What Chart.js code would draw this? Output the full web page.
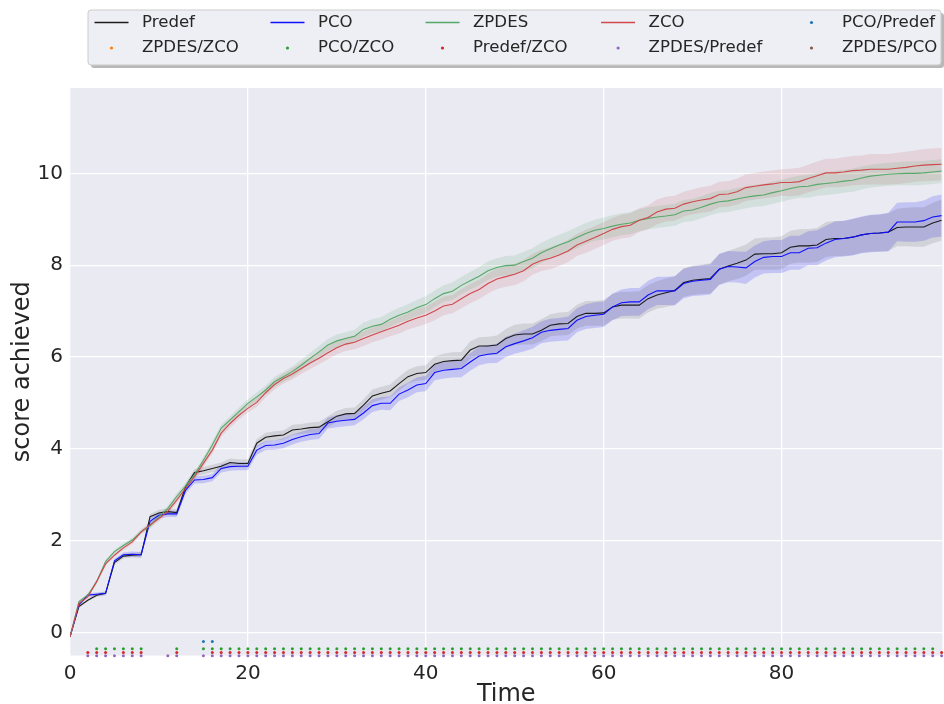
<!DOCTYPE html>
<html>
<head>
<meta charset="utf-8">
<script src="https://cdn.jsdelivr.net/npm/chart.js@4.4.1/dist/chart.umd.min.js"></script>
<style>
  html, body { margin: 0; padding: 0; background: #ffffff; }
  #wrap { width: 944px; height: 704px; position: relative; }
</style>
</head>
<body>
<div id="wrap"><canvas id="c" width="944" height="704"></canvas></div>
<script>
// ---- data -------------------------------------------------------------
const TIMES = [0,1,2,3,4,5,6,7,8,9,10,11,12,13,14,15,16,17,18,19,20,21,22,23,24,25,26,27,28,29,
  30,31,32,33,34,35,36,37,38,39,40,41,42,43,44,45,46,47,48,49,50,51,52,53,54,55,56,57,58,59,
  60,61,62,63,64,65,66,67,68,69,70,71,72,73,74,75,76,77,78,79,80,81,82,83,84,85,86,87,88,89,
  90,91,92,93,94,95,96,97,98];

const PREDEF = [-0.10,0.56,0.70,0.81,0.85,1.52,1.66,1.68,1.69,2.52,
  2.60,2.63,2.61,3.17,3.48,3.52,3.57,3.62,3.70,3.68,
  3.68,4.12,4.25,4.28,4.30,4.41,4.43,4.46,4.47,4.59,
  4.71,4.76,4.77,4.95,5.15,5.21,5.26,5.42,5.57,5.64,
  5.66,5.84,5.90,5.92,5.93,6.15,6.24,6.24,6.26,6.40,
  6.48,6.50,6.50,6.58,6.69,6.72,6.73,6.88,6.95,6.95,
  6.96,7.09,7.13,7.13,7.13,7.27,7.35,7.40,7.45,7.62,
  7.67,7.69,7.71,7.91,7.98,8.04,8.11,8.24,8.25,8.25,
  8.27,8.39,8.42,8.42,8.44,8.56,8.58,8.58,8.61,8.66,
  8.69,8.70,8.72,8.82,8.83,8.83,8.83,8.92,8.98];

const PCO = [-0.10,0.60,0.81,0.83,0.85,1.56,1.69,1.70,1.69,2.42,
  2.55,2.58,2.58,3.10,3.32,3.33,3.37,3.57,3.61,3.62,
  3.62,3.97,4.07,4.08,4.12,4.20,4.26,4.31,4.33,4.56,
  4.60,4.62,4.64,4.78,4.94,4.99,4.99,5.19,5.28,5.39,
  5.42,5.66,5.71,5.73,5.75,5.89,6.02,6.06,6.08,6.22,
  6.29,6.35,6.42,6.54,6.58,6.60,6.62,6.80,6.88,6.91,
  6.93,7.09,7.18,7.20,7.20,7.35,7.44,7.44,7.44,7.60,
  7.65,7.67,7.69,7.91,7.97,7.96,7.94,8.08,8.17,8.19,
  8.19,8.27,8.27,8.37,8.38,8.48,8.56,8.58,8.61,8.66,
  8.69,8.70,8.72,8.94,8.94,8.94,8.97,9.05,9.08];

const ZPDES = [-0.10,0.67,0.81,1.10,1.54,1.76,1.89,2.01,2.19,2.32,
  2.52,2.70,2.96,3.19,3.43,3.75,4.08,4.45,4.63,4.81,
  4.99,5.13,5.28,5.46,5.57,5.68,5.82,5.97,6.11,6.26,
  6.35,6.40,6.45,6.60,6.67,6.71,6.82,6.91,6.98,7.07,
  7.14,7.27,7.38,7.43,7.56,7.66,7.76,7.88,7.95,7.99,
  8.00,8.08,8.15,8.27,8.36,8.44,8.51,8.60,8.69,8.76,
  8.80,8.85,8.89,8.92,8.98,9.02,9.05,9.07,9.10,9.18,
  9.20,9.26,9.33,9.38,9.40,9.44,9.48,9.51,9.53,9.58,
  9.62,9.67,9.71,9.72,9.76,9.78,9.80,9.83,9.85,9.90,
  9.94,9.96,9.98,9.99,10.00,10.00,10.01,10.03,10.05];

const ZCO = [-0.10,0.63,0.77,1.11,1.49,1.68,1.84,1.97,2.19,2.34,
  2.48,2.64,2.88,3.14,3.39,3.68,3.97,4.34,4.55,4.73,
  4.88,5.01,5.22,5.40,5.53,5.63,5.75,5.87,5.97,6.09,
  6.20,6.28,6.32,6.40,6.48,6.55,6.62,6.69,6.78,6.85,
  6.91,7.00,7.11,7.15,7.27,7.38,7.47,7.60,7.70,7.75,
  7.80,7.88,8.02,8.10,8.15,8.22,8.31,8.44,8.52,8.60,
  8.69,8.78,8.84,8.87,8.98,9.04,9.16,9.22,9.24,9.33,
  9.38,9.42,9.45,9.54,9.55,9.60,9.69,9.72,9.75,9.77,
  9.80,9.80,9.82,9.89,9.95,10.01,10.01,10.03,10.06,10.07,
  10.09,10.09,10.09,10.11,10.13,10.16,10.18,10.19,10.20];

// half-width of the shaded confidence band around each mean curve
const ERR_PREDEF = [0.00,0.03,0.03,0.04,0.04,0.05,0.05,0.05,0.06,0.06,
  0.07,0.07,0.07,0.07,0.08,0.08,0.08,0.08,0.09,0.09,
  0.09,0.09,0.10,0.10,0.10,0.11,0.11,0.11,0.12,0.12,
  0.12,0.13,0.13,0.13,0.14,0.14,0.14,0.15,0.15,0.16,
  0.16,0.17,0.17,0.18,0.18,0.19,0.19,0.20,0.21,0.21,
  0.22,0.23,0.23,0.24,0.24,0.25,0.25,0.26,0.27,0.27,
  0.28,0.28,0.29,0.29,0.30,0.30,0.30,0.31,0.31,0.31,
  0.32,0.32,0.33,0.33,0.33,0.34,0.34,0.34,0.35,0.35,
  0.36,0.36,0.36,0.37,0.37,0.38,0.38,0.38,0.39,0.39,
  0.40,0.40,0.41,0.41,0.42,0.43,0.43,0.44,0.45];

const ERR_PCO = [0.00,0.03,0.04,0.04,0.04,0.05,0.05,0.06,0.06,0.06,
  0.07,0.07,0.07,0.08,0.08,0.08,0.08,0.09,0.09,0.09,
  0.09,0.10,0.10,0.10,0.11,0.11,0.11,0.12,0.12,0.12,
  0.13,0.13,0.13,0.14,0.14,0.14,0.15,0.15,0.16,0.16,
  0.17,0.17,0.18,0.18,0.19,0.19,0.20,0.20,0.21,0.22,
  0.22,0.23,0.24,0.24,0.25,0.25,0.26,0.26,0.27,0.28,
  0.28,0.29,0.29,0.30,0.30,0.31,0.31,0.31,0.32,0.32,
  0.32,0.33,0.33,0.34,0.34,0.34,0.35,0.35,0.35,0.36,
  0.36,0.37,0.37,0.37,0.38,0.38,0.39,0.39,0.40,0.40,
  0.41,0.41,0.42,0.42,0.43,0.43,0.44,0.45,0.46];

const ERR_ZPDES = [0.00,0.03,0.03,0.04,0.04,0.04,0.05,0.05,0.05,0.06,
  0.06,0.06,0.07,0.07,0.07,0.07,0.08,0.08,0.08,0.09,
  0.09,0.10,0.10,0.11,0.11,0.12,0.12,0.12,0.13,0.13,
  0.14,0.14,0.14,0.15,0.15,0.16,0.16,0.16,0.17,0.17,
  0.18,0.18,0.18,0.19,0.19,0.19,0.20,0.20,0.20,0.21,
  0.21,0.21,0.22,0.22,0.22,0.22,0.23,0.23,0.23,0.23,
  0.24,0.24,0.24,0.24,0.24,0.24,0.24,0.24,0.24,0.24,
  0.24,0.24,0.24,0.24,0.24,0.24,0.24,0.24,0.24,0.24,
  0.24,0.24,0.24,0.25,0.25,0.25,0.25,0.25,0.25,0.25,
  0.25,0.25,0.25,0.25,0.26,0.26,0.26,0.26,0.26];

const ERR_ZCO = [0.00,0.03,0.03,0.04,0.04,0.04,0.05,0.05,0.05,0.06,
  0.06,0.06,0.07,0.07,0.07,0.08,0.08,0.08,0.09,0.09,
  0.09,0.10,0.10,0.11,0.11,0.12,0.12,0.13,0.13,0.14,
  0.14,0.15,0.15,0.16,0.16,0.17,0.17,0.18,0.18,0.19,
  0.19,0.20,0.20,0.20,0.21,0.21,0.21,0.22,0.22,0.22,
  0.23,0.23,0.23,0.23,0.24,0.24,0.24,0.24,0.25,0.25,
  0.25,0.25,0.26,0.26,0.26,0.26,0.27,0.27,0.27,0.27,
  0.27,0.28,0.28,0.28,0.28,0.28,0.29,0.29,0.29,0.29,
  0.29,0.30,0.30,0.30,0.31,0.31,0.31,0.32,0.32,0.32,
  0.33,0.33,0.33,0.34,0.34,0.34,0.35,0.35,0.35];

// time steps at which each pairwise difference is significant
const SIG_PCO_PREDEF = [15,16];
const SIG_ZPDES_ZCO = [];
const SIG_PCO_ZCO = [3,4,5,6,7,8,12,15,16,17,18,19,20,21,22,23,24,25,26,27,28,29,30,31,32,33,34,35,
  36,37,38,39,40,41,42,43,44,45,46,47,48,49,50,51,52,53,54,55,56,57,58,59,60,61,62,63,64,65,66,67,
  68,69,70,71,72,73,74,75,76,77,78,79,80,81,82,83,84,85,86,87,88,89,90,91,92,93,94,95,96,97];
const SIG_PREDEF_ZCO = [2,3,4,6,7,8,12,16,17,18,19,20,21,22,23,24,25,26,27,28,29,30,31,32,33,34,35,
  36,37,38,39,40,41,42,43,44,45,46,47,48,49,50,51,52,53,54,55,56,57,58,59,60,61,62,63,64,65,66,67,
  68,69,70,71,72,73,74,75,76,77,78,79,80,81,82,83,84,85,86,87,88,89,90,91,92,93,94,95,96,97,98];
const SIG_ZPDES_PREDEF = [2,3,4,5,6,7,8,11,12,15,16,17,18,19,20,21,22,23,24,25,26,27,28,29,30,31,32,
  33,34,35,36,37,38,39,40,41,42,43,44,45,46,47,48,49,50,51,52,53,54,55,56,57,58,59,60,61,62,63,64,
  65,66,67,68,69,70,71,72,73,74,75,76,77,78,79,80,81,82,83,84,85,86,87,88,89,90,91,92,93,94,95,96,97,98];
const SIG_ZPDES_PCO = [3,4,5,6,7,8,11,12,14,15,16,17,18,19,20,21,22,23,24,25,26,27,28,29,30,31,32,33,
  34,35,36,37,38,39,40,41,42,43,44,45,46,47,48,49,50,51,52,53,54,55,56,57,58,59,60,61,62,63,64,65,
  66,67,68,69,70,71,72,73,74,75,76,77,78,79,80,81,82,83,84,85,86,87,88,89,90,91,92];

// score level at which each row of significance marks sits
const MARK_ROW_Y = [-0.20, -0.28, -0.36, -0.44, -0.51, -0.585];

const X_TICKS = [0, 20, 40, 60, 80];
const Y_TICKS = [0, 2, 4, 6, 8, 10];

// ---- styling ----------------------------------------------------------
const FONT = "'DejaVu Sans', 'Liberation Sans', sans-serif";
const TEXT = '#262626';

const CURVES = [
  { label: 'Predef', values: PREDEF, err: ERR_PREDEF, color: '#1c1c1c', band: 'rgba(0,0,0,0.10)' },
  { label: 'PCO',    values: PCO,    err: ERR_PCO,    color: '#1010ff', band: 'rgba(0,0,255,0.16)' },
  { label: 'ZPDES',  values: ZPDES,  err: ERR_ZPDES,  color: '#55a868', band: 'rgba(85,168,104,0.16)' },
  { label: 'ZCO',    values: ZCO,    err: ERR_ZCO,    color: '#d0484c', band: 'rgba(196,78,82,0.15)' }
];

const MARKS = [
  { label: 'PCO/Predef',   times: SIG_PCO_PREDEF,   color: '#1f77b4' },
  { label: 'ZPDES/ZCO',    times: SIG_ZPDES_ZCO,    color: '#ff7f0e' },
  { label: 'PCO/ZCO',      times: SIG_PCO_ZCO,      color: '#2ca02c' },
  { label: 'Predef/ZCO',   times: SIG_PREDEF_ZCO,   color: '#d62728' },
  { label: 'ZPDES/Predef', times: SIG_ZPDES_PREDEF, color: '#9467bd' },
  { label: 'ZPDES/PCO',    times: SIG_ZPDES_PCO,    color: '#8c564b' }
];

// ---- datasets ---------------------------------------------------------
const datasets = [];

// shaded bands: upper edge filled down to the lower edge that follows it
CURVES.forEach(c => {
  datasets.push({
    data: TIMES.map((t, i) => ({ x: t, y: c.values[i] + c.err[i] })),
    borderWidth: 0, pointRadius: 0, backgroundColor: c.band,
    fill: '+1', order: 50
  });
  datasets.push({
    data: TIMES.map((t, i) => ({ x: t, y: c.values[i] - c.err[i] })),
    borderWidth: 0, pointRadius: 0, fill: false, order: 50
  });
});

// mean curves (later ones on top)
CURVES.forEach((c, k) => {
  datasets.push({
    label: c.label, legendKind: 'line',
    data: TIMES.map((t, i) => ({ x: t, y: c.values[i] })),
    borderColor: c.color, borderWidth: 1.1, pointRadius: 0,
    fill: false, tension: 0, order: 10 - k
  });
});

// significance markers along the bottom
MARKS.forEach((m, k) => {
  datasets.push({
    label: m.label, legendKind: 'dot',
    data: m.times.map(t => ({ x: t, y: MARK_ROW_Y[k] })),
    showLine: false, pointRadius: 1.5, pointHoverRadius: 1.5,
    pointBorderWidth: 0, pointBackgroundColor: m.color, borderColor: m.color,
    backgroundColor: m.color, clip: false, order: 0
  });
});

// ---- plugins ----------------------------------------------------------
const plotBackground = {
  id: 'plotBackground',
  beforeDraw(chart) {
    const { ctx, chartArea: a } = chart;
    ctx.save();
    ctx.fillStyle = '#eaeaf2';
    ctx.fillRect(a.left, a.top, a.right - a.left, a.bottom - a.top);
    ctx.restore();
  }
};

const gridLegend = {
  id: 'gridLegend',
  afterDraw(chart) {
    const ctx = chart.ctx;
    const items = chart.data.datasets.filter(d => d.legendKind);
    const box = { x: 88, y: 10, w: 853, h: 55 };
    const colText = [142, 318, 473, 648.6, 842];
    const rowY = [22.5, 48];
    const handleLen = 34, handlePad = 13.5;

    ctx.save();
    // drop shadow
    ctx.fillStyle = 'rgba(0,0,0,0.28)';
    roundRect(ctx, box.x + 3, box.y + 3, box.w, box.h, 3);
    ctx.fill();
    ctx.fillStyle = '#ffffff';
    roundRect(ctx, box.x, box.y, box.w, box.h, 3);
    ctx.fill();
    ctx.fillStyle = 'rgba(234,234,242,0.8)';
    ctx.fill();
    ctx.strokeStyle = '#cccccc';
    ctx.lineWidth = 1;
    ctx.stroke();

    ctx.font = '16.6px ' + FONT;
    ctx.textBaseline = 'middle';
    ctx.textAlign = 'left';
    items.forEach((d, i) => {
      const col = i % 5, row = Math.floor(i / 5);
      const tx = colText[col], y = rowY[row];
      const hx1 = tx - handlePad, hx0 = hx1 - handleLen;
      if (d.legendKind === 'line') {
        ctx.strokeStyle = d.borderColor;
        ctx.lineWidth = 1.3;
        ctx.beginPath();
        ctx.moveTo(hx0, y);
        ctx.lineTo(hx1, y);
        ctx.stroke();
      } else {
        ctx.fillStyle = d.pointBackgroundColor;
        ctx.beginPath();
        ctx.arc((hx0 + hx1) / 2, y, 1.6, 0, Math.PI * 2);
        ctx.fill();
      }
      ctx.fillStyle = TEXT;
      ctx.fillText(d.label, tx, y);
    });
    ctx.restore();
  }
};

function roundRect(ctx, x, y, w, h, r) {
  ctx.beginPath();
  ctx.moveTo(x + r, y);
  ctx.lineTo(x + w - r, y);
  ctx.quadraticCurveTo(x + w, y, x + w, y + r);
  ctx.lineTo(x + w, y + h - r);
  ctx.quadraticCurveTo(x + w, y + h, x + w - r, y + h);
  ctx.lineTo(x + r, y + h);
  ctx.quadraticCurveTo(x, y + h, x, y + h - r);
  ctx.lineTo(x, y + r);
  ctx.quadraticCurveTo(x, y, x + r, y);
  ctx.closePath();
}

// ---- chart ------------------------------------------------------------
new Chart(document.getElementById('c'), {
  type: 'line',
  data: { datasets },
  plugins: [plotBackground, gridLegend],
  options: {
    responsive: false,
    animation: false,
    events: [],
    layout: { padding: { top: 88, right: 0, bottom: 0, left: 0 } },
    plugins: {
      legend: { display: false },
      tooltip: { enabled: false },
      filler: { drawTime: 'beforeDatasetsDraw' }
    },
    scales: {
      x: {
        type: 'linear', min: 0, max: 98.1,
        afterBuildTicks: s => { s.ticks = X_TICKS.map(v => ({ value: v })); },
        afterFit: s => { s.height = 48.5; },
        grid: { color: '#ffffff', lineWidth: 1.3, drawTicks: false },
        border: { display: false },
        ticks: { color: TEXT, font: { family: FONT, size: 20 }, padding: 6, maxRotation: 0 },
        title: { display: true, text: 'Time', color: TEXT,
                 font: { family: FONT, size: 24, lineHeight: 0.75 }, padding: { top: 0, bottom: 0 } }
      },
      y: {
        type: 'linear', min: -0.505, max: 11.86,
        afterBuildTicks: s => { s.ticks = Y_TICKS.map(v => ({ value: v })); },
        afterFit: s => { s.width = 70; },
        grid: { color: '#ffffff', lineWidth: 1.3, drawTicks: false },
        border: { display: false },
        ticks: { color: TEXT, font: { family: FONT, size: 20 }, padding: 7 },
        title: { display: true, text: 'score achieved', color: TEXT,
                 font: { family: FONT, size: 24, lineHeight: 1 }, padding: { top: 11, bottom: 0 } }
      }
    }
  }
});
</script>
</body>
</html>
